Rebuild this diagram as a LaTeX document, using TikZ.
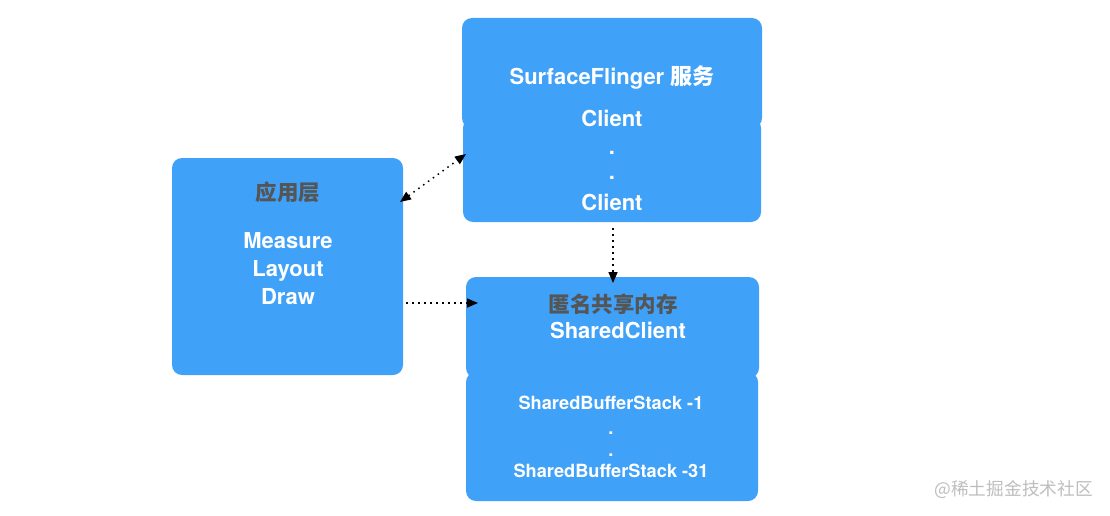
\documentclass[tikz,border=0pt]{standalone}
\usepackage{fontspec}
\setmainfont{TeX Gyre Heros}
\newfontfamily\cjk{Noto Sans CJK SC}
\usetikzlibrary{arrows.meta}
\definecolor{boxblue}{RGB}{64,161,248}
\definecolor{labgray}{RGB}{85,85,85}
\definecolor{wmgray}{RGB}{190,190,190}
\tikzset{
  bbox/.style={fill=boxblue, draw=none, rounded corners=10pt, inner sep=0pt},
  wtxt/.style={text=white, font=\bfseries\fontsize{22}{24}\selectfont, inner sep=0pt, anchor=base},
  stxt/.style={text=white, font=\bfseries\fontsize{18.2}{20}\selectfont, inner sep=0pt, anchor=base},
  gtxt/.style={text=labgray, font=\cjk\bfseries\fontsize{21.5}{23}\selectfont, inner sep=0pt, anchor=center},
  conn/.style={line width=1.5pt, dash pattern=on 1.5pt off 4.5pt, -{Triangle[length=11pt,width=9pt]}},
  conn2/.style={line width=1.5pt, dash pattern=on 1.5pt off 4.5pt, {Triangle[length=11pt,width=9pt]}-{Triangle[length=11pt,width=9pt]}}
}
\begin{document}
\begin{tikzpicture}[x=1pt,y=-1pt]
\useasboundingbox (0,0) rectangle (1110,516);
\fill[white] (0,0) rectangle (1110,516);
% boxes
\fill[bbox] (172,158) rectangle (403,375);
\fill[bbox] (463,118) rectangle (761,222);
\fill[bbox] (462,18) rectangle (762,128);
\fill[bbox] (466,372) rectangle (758,501);
\fill[bbox] (466,277) rectangle (759,378);
\node[minimum width=231pt, minimum height=217pt, inner sep=0pt] (app) at (287.5,266.5) {};
\node[minimum width=300pt, minimum height=204pt, inner sep=0pt] (sf) at (612,120) {};
\node[minimum width=293pt, minimum height=224pt, inner sep=0pt] (shm) at (612.5,389) {};
% texts
\node[gtxt] (t1) at (288,192) {应用层};
\node[wtxt] (t2) at (288,248) {Measure};
\node[wtxt] (t3) at (288,276) {Layout};
\node[wtxt] (t4) at (288,304) {Draw};
\node[wtxt] (t5) at (612,85) {SurfaceFlinger {\cjk\bfseries 服务}};
\node[wtxt] (t6) at (612,126) {Client};
\node[wtxt] (t7) at (612,154) {.};
\node[wtxt] (t8) at (612,179) {.};
\node[wtxt] (t9) at (612,210) {Client};
\node[gtxt] (t10) at (613,304) {匿名共享内存};
\node[wtxt] (t11) at (618,338) {SharedClient};
\node[stxt] (t12) at (611,409.5) {SharedBufferStack -1};
\node[stxt] (t13) at (611,434) {.};
\node[stxt] (t14) at (611,456) {.};
\node[stxt] (t15) at (611,477.5) {SharedBufferStack -31};
\node[text=wmgray, font=\cjk\fontsize{17.7}{19}\selectfont, inner sep=0pt, anchor=east] (wm) at (1093,490) {@稀土掘金技术社区};
% connectors
\coordinate (a1) at (400,202);
\coordinate (a2) at (466,154);
\coordinate (b1) at (406,303);
\coordinate (b2) at (478,303);
\coordinate (c1) at (613,228);
\coordinate (c2) at (613,283);
\draw[conn2] (a1) -- (a2);
\draw[conn] (b1) -- (b2);
\draw[conn] (c1) -- (c2);
\end{tikzpicture}
\end{document}
